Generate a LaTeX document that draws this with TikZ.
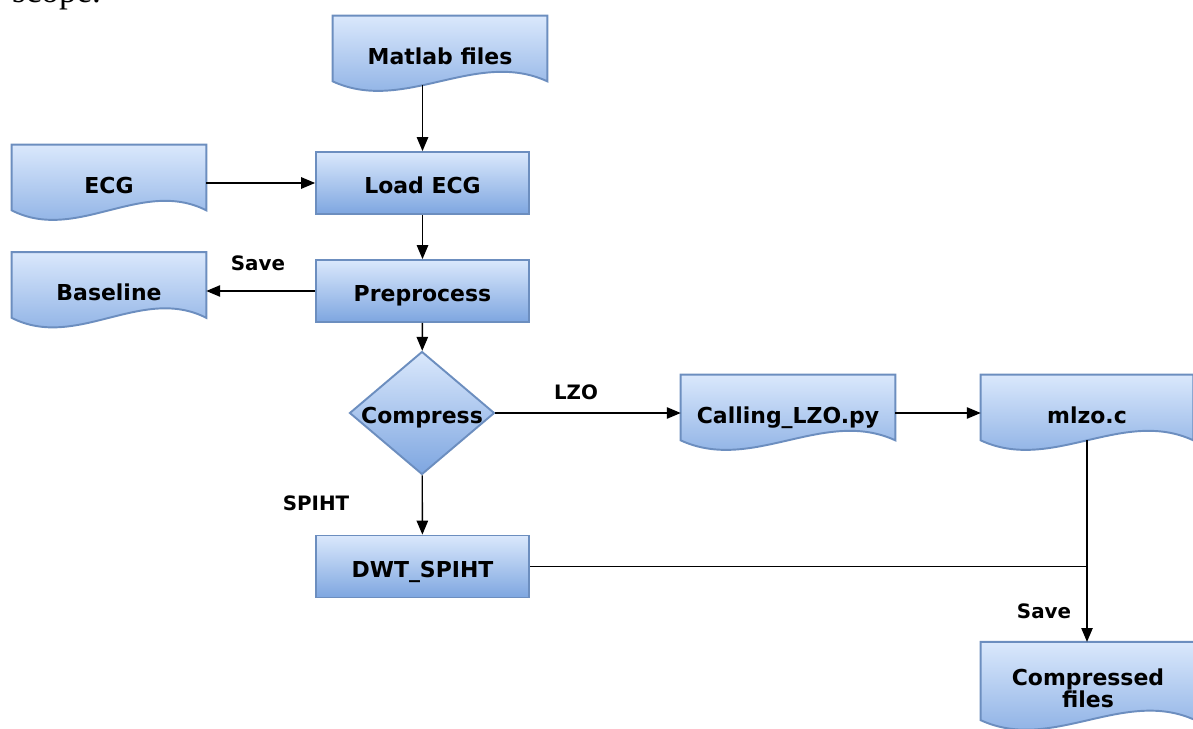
\documentclass[tikz,border=0pt]{standalone}
\usepackage{fontspec}
\setmainfont{Liberation Serif}
\setsansfont{DejaVu Sans}
\usetikzlibrary{arrows,calc,shapes.geometric,backgrounds}

\definecolor{boxtop}{HTML}{DAE8FC}
\definecolor{boxbot}{HTML}{7EA6E0}
\definecolor{boxline}{HTML}{6C8EBF}

\newcommand{\docshape}[1]{%
  \path[docbox] (#1.south west) -- (#1.north west) -- (#1.north east) -- (#1.south east)
    .. controls ($(#1.south east)!0.333!(#1.south west)+(0,-33)$) and ($(#1.south east)!0.667!(#1.south west)+(0,33)$) .. (#1.south west) -- cycle;}

\begin{document}
\begin{tikzpicture}[x=0.02cm,y=-0.02cm,
        every node/.style={font=\sffamily\bfseries\fontsize{12.5}{14}\selectfont},
        procbox/.style={draw=boxline,line width=1.1pt,top color=boxtop,bottom color=boxbot,
                        minimum width=4.26cm,minimum height=1.24cm,inner sep=0pt,
                        text height=12.4pt,text depth=0pt},
        docbox/.style={draw=boxline,line width=1.1pt,top color=boxtop,bottom color=boxbot},
        docnode/.style={minimum width=4.28cm,inner ysep=0pt,text height=27.5pt,text depth=9.5pt},
        decision/.style={diamond,draw=boxline,line width=1.1pt,top color=boxtop,bottom color=boxbot,
                         minimum width=2.9cm,minimum height=2.46cm,inner sep=0pt,
                         text height=11.4pt,text depth=0pt},
        lbl/.style={font=\sffamily\bfseries\fontsize{11.3}{13}\selectfont},
        arr/.style={-triangle 45,line width=0.8pt}]
    \useasboundingbox (0,0) rectangle (1193,729);

    \node[anchor=base west,font=\rmfamily\fontsize{20}{24}\selectfont] (scopetxt) at (6,3) {scope.};

    \node[docnode] (matlab) at (440,48.5) {Matlab files};
    \node[docnode,minimum width=3.88cm] (ecg) at (109,177.5) {ECG};
    \node[procbox] (load) at (422.5,183) {Load ECG};
    \node[docnode,minimum width=3.88cm] (baseline) at (109,285) {Baseline};
    \node[procbox] (prep) at (422.5,291) {Preprocess};
    \node[decision] (compress) at (422,413) {\makebox[0pt]{Compress}};
    \node[docnode] (calling) at (788,407.5) {Calling\_LZO.py};
    \node[docnode,minimum width=4.24cm] (mlzo) at (1087,407.5) {mlzo.c};
    \node[procbox] (dwt) at (422.5,566.5) {DWT\_SPIHT};
    \node[docnode,text height=37.4pt,text depth=6.8pt] (compressed) at (1088,681)
        {\parbox[b]{4cm}{\centering\fontsize{12.5}{12.5}\selectfont Compressed\\files}};

    \begin{scope}[on background layer]
        \docshape{matlab}
        \docshape{ecg}
        \docshape{baseline}
        \docshape{calling}
        \docshape{mlzo}
        \docshape{compressed}
    \end{scope}

    \node[lbl] (savebase) at (258,263) {Save};
    \node[lbl] (lzo) at (576,392) {LZO};
    \node[lbl] (spiht) at (316,503) {SPIHT};
    \node[lbl] (savecomp) at (1044,611) {Save};

    \draw[arr] ($(load.north |- matlab.south)+(0,4)$) -- (load.north);
    \draw[arr] (ecg.east |- load.west) -- (load.west);
    \draw[arr] (load) -- (prep);
    \draw[arr] (prep.west) -- (prep.west -| baseline.east);
    \draw[arr] (prep) -- (compress);
    \draw[arr] (compress.east) -- (compress.east -| calling.west);
    \draw[arr] ([yshift=-0.11cm]calling.east) -- ([yshift=-0.11cm]mlzo.west);
    \draw[arr] (compress) -- (dwt);
    \draw[arr] (mlzo.south) -- (mlzo.south |- compressed.north);
    \draw[line width=0.8pt] (dwt.east) -- (dwt.east -| mlzo.south);
\end{tikzpicture}
\end{document}
